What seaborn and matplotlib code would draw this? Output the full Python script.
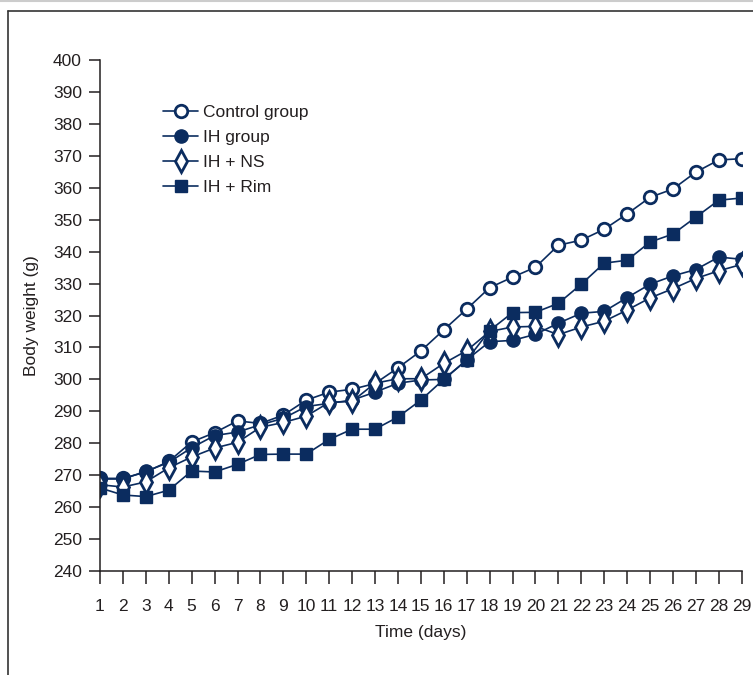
import matplotlib
matplotlib.use("Agg")
import matplotlib.pyplot as plt
import seaborn as sns
import pandas as pd
from matplotlib.lines import Line2D

days = list(range(1, 30))
control = [269, 269, 271, 274.3, 280.4, 283.3, 287, 286.2, 288.8, 293.5, 296, 296.9, 298.7, 303.6, 308.9,
           315.5, 322, 328.7, 332, 335.1, 342, 343.6, 347, 351.8, 357, 359.6, 364.9, 368.7, 369.1]
ih = [268.8, 268.8, 271.2, 274, 278.6, 282.4, 283.5, 285.8, 287.8, 291.5, 292.5, 293.5, 296, 298.8, 299.8,
      300, 306.1, 311.8, 312.2, 314.1, 317.6, 320.7, 321.3, 325.6, 329.8, 332.4, 334.4, 338.3, 337.6]
ih_ns = [267, 266.3, 267.9, 272.3, 275.7, 278.5, 280.3, 285, 286.5, 288.5, 292.8, 293.1, 298.8, 300.2, 300.2,
         305, 309, 315, 316.4, 316.6, 314, 316.4, 318.2, 321.7, 325.5, 328.4, 331.6, 334, 336]
ih_rim = [266, 263.8, 263.3, 265.3, 271.3, 271, 273.4, 276.5, 276.6, 276.6, 281.2, 284.4, 284.4, 288.2, 293.5,
          300, 306, 315.3, 320.9, 321, 323.8, 329.8, 336.4, 337.3, 343, 345.5, 350.8, 356.1, 356.8]
labels = ["Control group", "IH group", "IH + NS", "IH + Rim"]

sns.set_style("white")
plt.rcParams['font.family'] = ['Liberation Sans', 'DejaVu Sans']

navy = "#0b2c5f"
txt = "#231f20"
fs = 12.5

df = pd.DataFrame({"day": days, labels[0]: control, labels[1]: ih, labels[2]: ih_ns, labels[3]: ih_rim})

fig = plt.figure(figsize=(7.53, 6.75), dpi=100)
ax = fig.add_axes([100 / 753, 1 - 571 / 675, (741.7 - 100) / 753, (571 - 60) / 675])

styles = {
    labels[0]: dict(marker="o", markerfacecolor="white", markersize=9, markeredgewidth=2),
    labels[1]: dict(marker="o", markerfacecolor=navy, markersize=9.5, markeredgewidth=1),
    labels[2]: dict(marker="d", markerfacecolor="white", markersize=11, markeredgewidth=2),
    labels[3]: dict(marker="s", markerfacecolor=navy, markersize=8.5, markeredgewidth=1),
}
for name in labels:
    sns.lineplot(data=df, x="day", y=name, ax=ax, color=navy, linewidth=1.2,
                 markeredgecolor=navy, label=name, **styles[name])

ax.set_xlim(1, 29)
ax.set_ylim(240, 400)
ax.set_xticks(days)
ax.set_yticks(range(240, 401, 10))
for s in ["top", "right"]:
    ax.spines[s].set_visible(False)
for s in ["left", "bottom"]:
    ax.spines[s].set_color(txt)
    ax.spines[s].set_linewidth(1.1)
ax.tick_params(axis="y", length=8, width=1.1, color=txt, labelsize=fs, labelcolor=txt, pad=5, left=True)
ax.tick_params(axis="x", length=9, width=1.1, color=txt, labelsize=fs, labelcolor=txt, pad=11, bottom=True)
ax.set_xlabel("Time (days)", fontsize=fs, color=txt, labelpad=8)
ax.set_ylabel("Body weight (g)", fontsize=fs, color=txt, labelpad=10)
ax.grid(False)

leg = ax.legend(loc="upper left", bbox_to_anchor=(0.085, 0.93), frameon=False, fontsize=fs,
                handlelength=2.0, handletextpad=0.3, labelspacing=0.58, borderpad=0)
for t in leg.get_texts():
    t.set_color(txt)

# outer frame of the figure panel
fig.add_artist(Line2D([8 / 753, 8 / 753], [0, 1 - 11 / 675], color="#333333", linewidth=1.2))
fig.add_artist(Line2D([8 / 753, 1], [1 - 11 / 675, 1 - 11 / 675], color="#333333", linewidth=1.2))
fig.add_artist(Line2D([0, 1], [1 - 1 / 675, 1 - 1 / 675], color="#cccccc", linewidth=1.5))

fig.savefig("out.png", dpi=100)
